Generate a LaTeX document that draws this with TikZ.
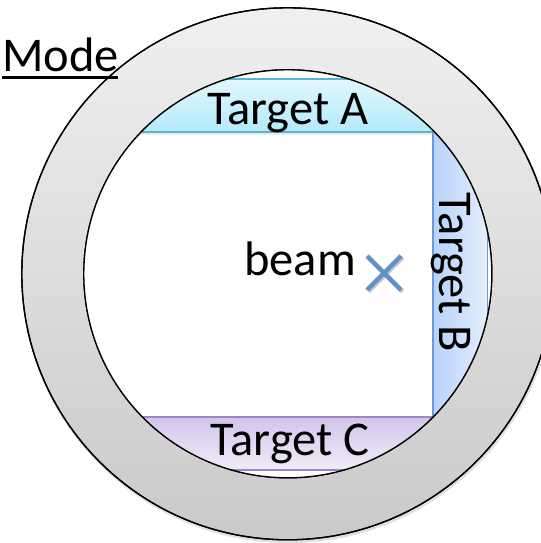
\documentclass[tikz,border=0pt]{standalone}
\usepackage{fontspec}
\setmainfont{Carlito}
\definecolor{aTop}{RGB}{226,247,253}
\definecolor{aBot}{RGB}{178,234,250}
\definecolor{aLine}{RGB}{86,182,208}
\definecolor{bLeft}{RGB}{184,210,250}
\definecolor{bRight}{RGB}{228,238,253}
\definecolor{bLine}{RGB}{106,155,219}
\definecolor{cTop}{RGB}{211,197,234}
\definecolor{cBot}{RGB}{240,236,249}
\definecolor{cLine}{RGB}{157,134,195}
\definecolor{crossCol}{RGB}{96,146,199}
\begin{document}
\begin{tikzpicture}[x=1bp,y=-1bp,
  lbl/.style={inner sep=0pt,font=\fontsize{48.5bp}{52bp}\selectfont},
  ring/.style={draw=black,line width=1.3bp},
  ringshadow/.style={draw=black!12,line width=3bp},
  band/.style={line width=1.2bp},
  crossline/.style={line width=4.5bp,draw=crossCol},
  crossshadow/.style={line width=4.5bp,draw=black!22}]
\useasboundingbox (0,0) rectangle (541,543);
\coordinate (c) at (287.8,273.8);
\coordinate (cs) at (288.8,275.8);
% soft shadow of the ring
\draw[ringshadow] (cs) circle (265.8bp);
% annulus
\path[ring,even odd rule,top color=black!6,bottom color=black!21]
  (c) circle (266bp) (c) circle (204bp);
\fill[white] (c) circle (204bp);
\begin{scope}
  \clip (c) circle (204bp);
  % Target A band
  \shade[top color=aTop,bottom color=aBot] (60,79) rectangle (440,132);
  \fill[black!8] (60,133) rectangle (433,135);
  \draw[band,draw=aLine] (60,79) -- (440,79) (60,132) -- (433,132);
  % Target B band
  \shade[left color=bLeft,right color=bRight] (433,132) rectangle (487.5,417);
  \draw[band,draw=bLine] (433,132) -- (433,417) (487.5,100) -- (487.5,440);
  % Target C band
  \shade[top color=cTop,bottom color=cBot] (60,417) rectangle (440,470);
  \draw[band,draw=cLine] (60,417) -- (433,417) (60,470) -- (440,470);
\end{scope}
\draw[ring] (c) circle (204bp);
\draw[ring] (c) circle (266bp);
% labels
\node[lbl,anchor=base west] (mode) at (2,71.5) {Mode};
\draw[line width=2.8bp] (mode.base west |- 0,77.8) -- (118,77.8);
\node[lbl,anchor=base] (ta) at (288,124.5) {Target A};
\node[lbl,anchor=base,rotate=-90] (tb) at (439.5,272.6) {Target B};
\node[lbl,anchor=base] (tc) at (290,455) {Target C};
\node[lbl,anchor=base east] (beam) at (356,275) {beam};
% beam cross
\coordinate (x) at (384,273);
\draw[crossshadow] ([shift={(-15.5,-15.5)}]x) -- ([shift={(18.5,18.5)}]x);
\draw[crossshadow] ([shift={(-15.5,18.5)}]x) -- ([shift={(18.5,-15.5)}]x);
\draw[crossline] ([shift={(-17,-17)}]x) -- ([shift={(17,17)}]x);
\draw[crossline] ([shift={(-17,17)}]x) -- ([shift={(17,-17)}]x);
\end{tikzpicture}
\end{document}
